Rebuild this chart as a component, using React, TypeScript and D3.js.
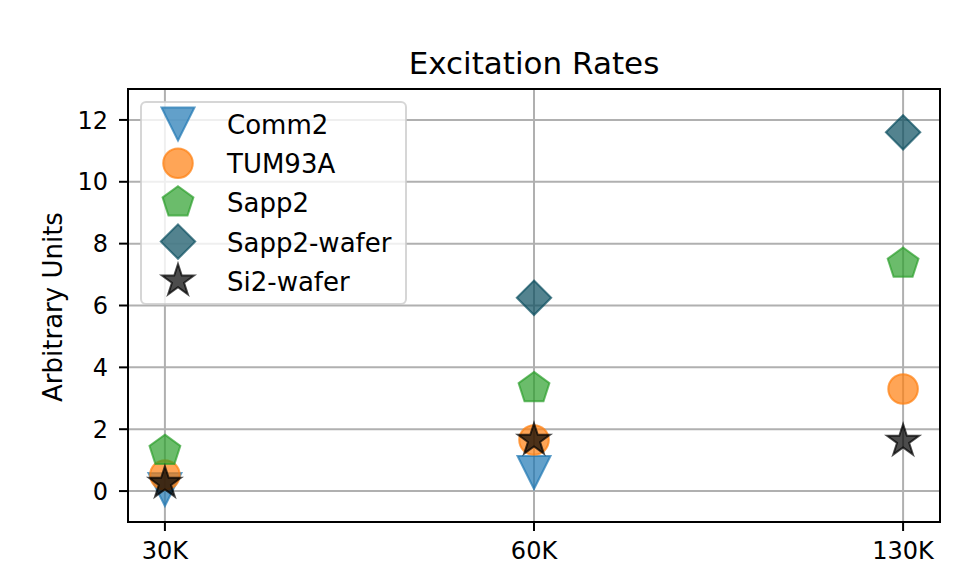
import React, { useLayoutEffect } from "react";
import * as d3 from "d3";

// Temperature categories on the x axis
const categories = ["30K", "60K", "130K"];

// Excitation rates per sample (null = not measured)
const comm2: (number | null)[] = [0.05, 0.6, null];
const tum93a: (number | null)[] = [0.52, 1.65, 3.3];
const sapp2: (number | null)[] = [1.3, 3.33, 7.35];
const sapp2Wafer: (number | null)[] = [null, 6.25, 11.6];
const si2Wafer: (number | null)[] = [0.26, 1.65, 1.62];

const yTicks = [0, 2, 4, 6, 8, 10, 12];

const seriesNames = ["Comm2", "TUM93A", "Sapp2", "Sapp2-wafer", "Si2-wafer"];

type MarkerKind = "triangleDown" | "circle" | "pentagon" | "diamond" | "star";

const seriesList = [
  { name: seriesNames[0], values: comm2, color: "#1f77b4", marker: "triangleDown" as MarkerKind },
  { name: seriesNames[1], values: tum93a, color: "#ff7f0e", marker: "circle" as MarkerKind },
  { name: seriesNames[2], values: sapp2, color: "#2ca02c", marker: "pentagon" as MarkerKind },
  { name: seriesNames[3], values: sapp2Wafer, color: "#0a4f60", marker: "diamond" as MarkerKind },
  { name: seriesNames[4], values: si2Wafer, color: "#000000", marker: "star" as MarkerKind },
];

const W = 964;
const H = 567;
const plot = { left: 128, right: 940, top: 89, bottom: 522 };
const FONT = "'DejaVu Sans', sans-serif";

function polygonPath(points: [number, number][]): string {
  return "M" + points.map((p) => `${p[0].toFixed(2)},${p[1].toFixed(2)}`).join("L") + "Z";
}

function markerPath(kind: MarkerKind): string {
  switch (kind) {
    case "triangleDown": {
      const s = 16.5;
      return polygonPath([[0, s], [-s, -s], [s, -s]]);
    }
    case "circle": {
      const r = 14.8;
      return `M${r},0A${r},${r} 0 1,1 ${-r},0A${r},${r} 0 1,1 ${r},0Z`;
    }
    case "pentagon": {
      const r = 16.2;
      const pts: [number, number][] = d3.range(5).map((i) => {
        const a = -Math.PI / 2 + (i * 2 * Math.PI) / 5;
        return [r * Math.cos(a), r * Math.sin(a)];
      });
      return polygonPath(pts);
    }
    case "diamond": {
      const r = 17.2;
      return polygonPath([[0, -r], [r, 0], [0, r], [-r, 0]]);
    }
    case "star": {
      const R = 16.8;
      const inner = R * 0.381966;
      const pts: [number, number][] = d3.range(10).map((i) => {
        const a = -Math.PI / 2 + (i * Math.PI) / 5;
        const rr = i % 2 === 0 ? R : inner;
        return [rr * Math.cos(a), rr * Math.sin(a)];
      });
      return polygonPath(pts);
    }
  }
}

function Marker({ kind, color, x, y }: { kind: MarkerKind; color: string; x: number; y: number }) {
  return (
    <path
      d={markerPath(kind)}
      transform={`translate(${x},${y})`}
      fill={color}
      fillOpacity={0.7}
      stroke={color}
      strokeOpacity={0.7}
      strokeWidth={2}
      strokeLinejoin="miter"
    />
  );
}

export default function App() {
  useLayoutEffect(() => {
    document.body.style.margin = "0";
  }, []);

  const x = d3
    .scaleLinear()
    .domain([-0.1, categories.length - 1 + 0.1])
    .range([plot.left, plot.right]);
  const y = d3.scaleLinear().domain([-1, 13]).range([plot.bottom, plot.top]);

  const legend = { x: 141, y: 102, w: 265, h: 202, markerX: 178, textX: 227, firstRow: 124, rowGap: 39.2 };

  return (
    <svg width={W} height={H} style={{ display: "block", background: "#ffffff" }} fontFamily={FONT}>
      <rect x={0} y={0} width={W} height={H} fill="#ffffff" />

      {/* grid */}
      <g stroke="#b0b0b0" strokeWidth={2}>
        {yTicks.map((t) => (
          <line key={"gy" + t} x1={plot.left} x2={plot.right} y1={y(t)} y2={y(t)} />
        ))}
        {categories.map((c, i) => (
          <line key={"gx" + c} x1={x(i)} x2={x(i)} y1={plot.top} y2={plot.bottom} />
        ))}
      </g>

      {/* data markers */}
      {seriesList.map((s) => (
        <g key={s.name}>
          {s.values.map((v, i) =>
            v === null ? null : <Marker key={i} kind={s.marker} color={s.color} x={x(i)} y={y(v)} />
          )}
        </g>
      ))}

      {/* spines */}
      <rect
        x={plot.left}
        y={plot.top}
        width={plot.right - plot.left}
        height={plot.bottom - plot.top}
        fill="none"
        stroke="#000000"
        strokeWidth={2}
      />

      {/* y ticks */}
      {yTicks.map((t) => (
        <g key={"ty" + t}>
          <line x1={plot.left - 9} x2={plot.left} y1={y(t)} y2={y(t)} stroke="#000" strokeWidth={2} />
          <text x={plot.left - 20} y={y(t)} dy="0.36em" textAnchor="end" fontSize={24} fill="#000">
            {t}
          </text>
        </g>
      ))}

      {/* x ticks */}
      {categories.map((c, i) => (
        <g key={"tx" + c}>
          <line x1={x(i)} x2={x(i)} y1={plot.bottom} y2={plot.bottom + 9} stroke="#000" strokeWidth={2} />
          <text x={x(i)} y={558.5} textAnchor="middle" fontSize={24} fill="#000">
            {c}
          </text>
        </g>
      ))}

      {/* axis label */}
      <text
        transform={`translate(62,307) rotate(-90)`}
        textAnchor="middle"
        fontSize={26}
        fill="#000"
      >
        Arbitrary Units
      </text>

      {/* title */}
      <text x={(plot.left + plot.right) / 2} y={74} textAnchor="middle" fontSize={31} fill="#000">
        Excitation Rates
      </text>

      {/* legend */}
      <g>
        <rect
          x={legend.x}
          y={legend.y}
          width={legend.w}
          height={legend.h}
          rx={5}
          ry={5}
          fill="#ffffff"
          fillOpacity={0.8}
          stroke="#cccccc"
          strokeOpacity={0.8}
          strokeWidth={2}
        />
        {seriesList.map((s, i) => {
          const cy = legend.firstRow + i * legend.rowGap;
          return (
            <g key={"lg" + s.name}>
              <Marker kind={s.marker} color={s.color} x={legend.markerX} y={cy} />
              <text x={legend.textX} y={cy + 10} fontSize={26} fill="#000">
                {s.name}
              </text>
            </g>
          );
        })}
      </g>
    </svg>
  );
}
